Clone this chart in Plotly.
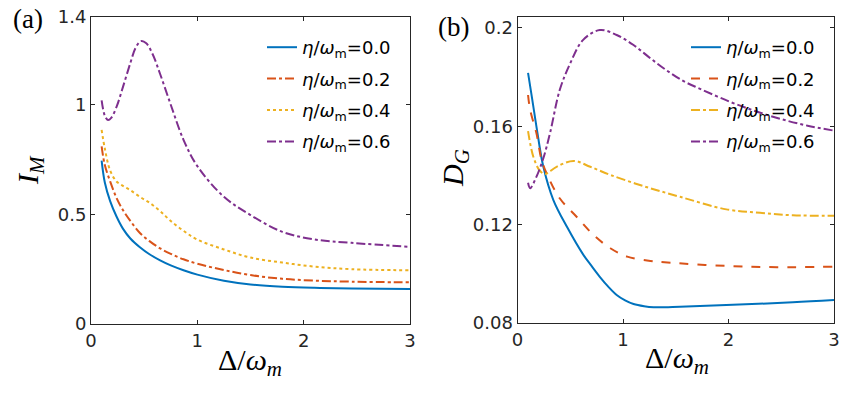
import plotly.graph_objects as go

# ---------------- data ----------------
labels = ["0.0", "0.2", "0.4", "0.6"]
colors = ["#0072BD", "#D95319", "#EDB120", "#7E2F8E"]

# panel (a): I_M vs Delta/omega_m
a_x = [0.1, 0.13, 0.18, 0.24, 0.3, 0.37, 0.46, 0.55, 0.65, 0.75, 0.87, 1.0, 1.25, 1.5, 1.8, 2.1, 2.45, 3.0]
a_eta00 = [0.745, 0.645, 0.56, 0.49, 0.435, 0.39, 0.35, 0.318, 0.29, 0.267, 0.245, 0.225, 0.197, 0.18, 0.17, 0.165, 0.162, 0.16]
a_eta02 = [0.81, 0.725, 0.65, 0.575, 0.52, 0.47, 0.415, 0.378, 0.345, 0.32, 0.295, 0.275, 0.246, 0.223, 0.206, 0.198, 0.193, 0.19]
a_eta04 = [0.885, 0.80, 0.70, 0.65, 0.63, 0.61, 0.58, 0.553, 0.515, 0.47, 0.425, 0.385, 0.34, 0.303, 0.28, 0.262, 0.25, 0.245]
a_x06 = [0.1, 0.13, 0.16, 0.19, 0.24, 0.3, 0.37, 0.42, 0.47, 0.52, 0.58, 0.65, 0.75, 0.87, 1.0, 1.25, 1.5, 1.8, 2.1, 2.45, 3.0]
a_eta06 = [1.02, 0.95, 0.93, 0.94, 0.99, 1.08, 1.19, 1.26, 1.29, 1.28, 1.23, 1.14, 1.0, 0.84, 0.72, 0.58, 0.497, 0.42, 0.386, 0.37, 0.352]

# panel (b): D_G vs Delta/omega_m
b_x00 = [0.1, 0.14, 0.19, 0.245, 0.34, 0.47, 0.62, 0.7, 0.78, 0.86, 0.94, 1.02, 1.1, 1.2, 1.29, 1.54, 1.98, 2.61, 3.0]
b_eta00 = [0.1817, 0.1708, 0.157, 0.1435, 0.130, 0.119, 0.108, 0.1033, 0.0988, 0.0948, 0.0914, 0.0892, 0.0877, 0.0868, 0.0864, 0.0866, 0.0873, 0.0884, 0.0893]
b_x02 = [0.1, 0.12, 0.18, 0.23, 0.29, 0.4, 0.56, 0.72, 0.88, 1.04, 1.26, 1.45, 1.98, 2.46, 3.0]
b_eta02 = [0.1727, 0.1666, 0.157, 0.146, 0.1395, 0.1307, 0.1232, 0.1158, 0.1104, 0.107, 0.1052, 0.1045, 0.1032, 0.1027, 0.1029]
b_x04 = [0.1, 0.15, 0.21, 0.26, 0.37, 0.53, 0.69, 0.88, 1.19, 1.54, 1.98, 2.30, 2.61, 3.0]
b_eta04 = [0.158, 0.1476, 0.142, 0.1406, 0.1435, 0.1459, 0.1435, 0.1402, 0.1357, 0.1313, 0.1262, 0.1248, 0.1238, 0.1236]
b_x06 = [0.1, 0.12, 0.18, 0.245, 0.31, 0.40, 0.50, 0.62, 0.78, 0.94, 1.10, 1.26, 1.41, 1.57, 1.73, 2.01, 2.25, 2.49, 2.75, 3.0]
b_eta06 = [0.137, 0.1348, 0.1395, 0.147, 0.1575, 0.1747, 0.1856, 0.195, 0.1991, 0.1971, 0.193, 0.1876, 0.1828, 0.1784, 0.1752, 0.170, 0.1662, 0.163, 0.1602, 0.1582]

a_ticks = [0, 0.5, 1, 1.4]
a_ticktext = ["0", "0.5", "1", "1.4"]
b_ticks = [0.08, 0.12, 0.16, 0.2]
b_ticktext = ["0.08", "0.12", "0.16", "0.2"]
x_ticks = [0, 1, 2, 3]

# ---------------- figure ----------------
W, H = 850, 398
SANS = "DejaVu Sans"
SERIF = "Liberation Serif"
AX = "#262626"

fig = go.Figure()

a_series = [(a_x, a_eta00, "solid"), (a_x, a_eta02, "dashdot"), (a_x, a_eta04, "dot"), (a_x06, a_eta06, "dashdot")]
b_series = [(b_x00, b_eta00, "solid"), (b_x02, b_eta02, "dash"), (b_x04, b_eta04, "dashdot"), (b_x06, b_eta06, "dashdot")]

def name(lbl):
    return "<i>η</i>/<i>ω</i><sub>m</sub>=" + lbl

for i, ((xs, ys, dash), lbl, c) in enumerate(zip(a_series, labels, colors)):
    fig.add_trace(go.Scatter(x=xs, y=ys, mode="lines", name=name(lbl), legendgroup="a%d" % i,
                             line=dict(color=c, width=2, dash=dash, shape="spline", smoothing=1.0),
                             xaxis="x", yaxis="y", legend="legend"))
for i, ((xs, ys, dash), lbl, c) in enumerate(zip(b_series, labels, colors)):
    fig.add_trace(go.Scatter(x=xs, y=ys, mode="lines", name=name(lbl), legendgroup="b%d" % i,
                             line=dict(color=c, width=2, dash=dash, shape="spline", smoothing=1.0),
                             xaxis="x2", yaxis="y2", legend="legend2"))

def px_x(p):
    return p / W

def px_y(p):
    return 1 - p / H

axis_common = dict(showline=True, linecolor=AX, linewidth=1, mirror="ticks", ticks="inside",
                   ticklen=4, tickcolor=AX, tickwidth=1, showgrid=False, zeroline=False,
                   tickfont=dict(family=SANS, size=18, color=AX), automargin=False)

fig.update_layout(
    width=W, height=H, margin=dict(l=0, r=0, t=0, b=0),
    paper_bgcolor="white", plot_bgcolor="white",
    xaxis=dict(domain=[px_x(91), px_x(410)], range=[0, 3], tickvals=x_ticks, anchor="y", **axis_common),
    yaxis=dict(domain=[px_y(324), px_y(17)], range=[0, 1.4], tickvals=a_ticks, ticktext=a_ticktext, anchor="x", **axis_common),
    xaxis2=dict(domain=[px_x(517.5), px_x(834)], range=[0, 3], tickvals=x_ticks, anchor="y2", **axis_common),
    yaxis2=dict(domain=[px_y(323), px_y(17)], range=[0.08, 0.2044], tickvals=b_ticks, ticktext=b_ticktext, anchor="x2", **axis_common),
    legend=dict(x=px_x(262), y=px_y(29), xanchor="left", yanchor="top", bgcolor="rgba(0,0,0,0)",
                font=dict(family=SANS, size=18, color="black"), tracegroupgap=5),
    legend2=dict(x=px_x(686), y=px_y(29), xanchor="left", yanchor="top", bgcolor="rgba(0,0,0,0)",
                 font=dict(family=SANS, size=18, color="black"), tracegroupgap=5),
    showlegend=True,
)

ann = [
    dict(text="(a)", x=px_x(28), y=px_y(19), font=dict(family=SERIF, size=27, color="black")),
    dict(text="(b)", x=px_x(453), y=px_y(27), font=dict(family=SERIF, size=27, color="black")),
    dict(text="<i>I</i><sub><i>M</i></sub>", x=px_x(30), y=px_y(170), textangle=-90,
         font=dict(family=SERIF, size=30, color="black")),
    dict(text="<i>D</i><sub><i>G</i></sub>", x=px_x(455), y=px_y(168), textangle=-90,
         font=dict(family=SERIF, size=30, color="black")),
    dict(text="Δ/<i>ω</i><sub><i>m</i></sub>", x=px_x(250), y=px_y(362),
         font=dict(family=SERIF, size=30, color="black")),
    dict(text="Δ/<i>ω</i><sub><i>m</i></sub>", x=px_x(677), y=px_y(360),
         font=dict(family=SERIF, size=30, color="black")),
]
for a in ann:
    fig.add_annotation(xref="paper", yref="paper", showarrow=False, xanchor="center", yanchor="middle", **a)

fig.write_html("out.html", config={"displayModeBar": False},
               post_script="document.body.style.margin='0';")
